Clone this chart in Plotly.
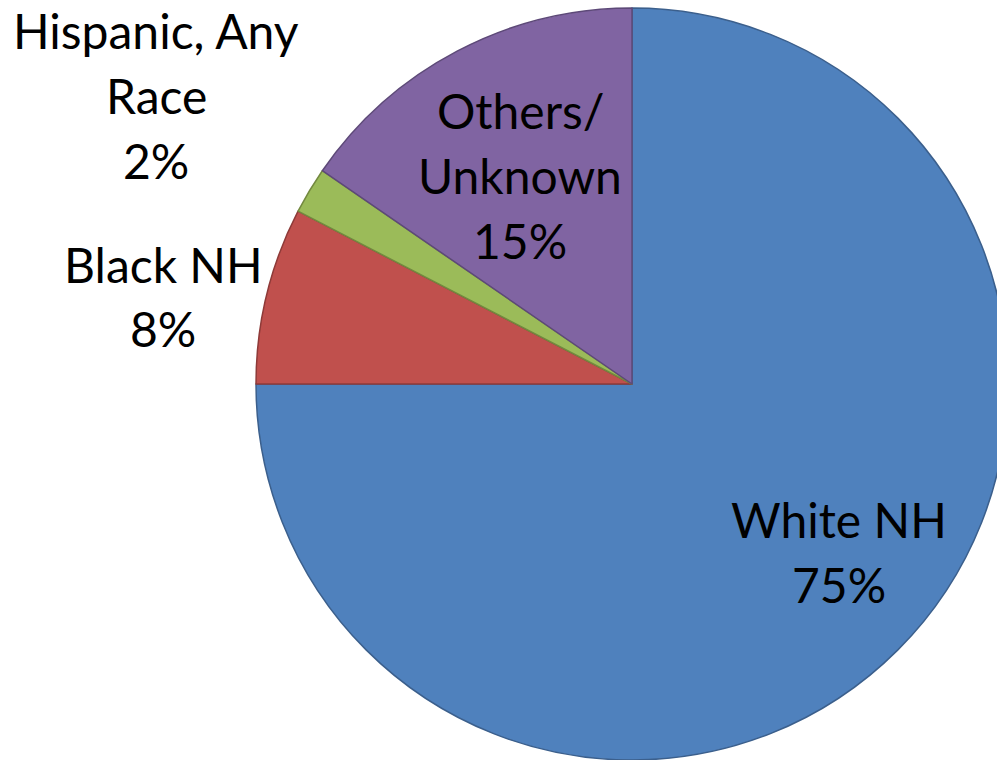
import plotly.graph_objects as go

# Data
categories = ["White NH", "Black NH", "Hispanic, Any Race", "Others/ Unknown"]
values = [75.0, 7.6, 2.0, 15.4]
label_lines = [["White NH"], ["Black NH"], ["Hispanic, Any", "Race"], ["Others/", "Unknown"]]
fill_colors = ["#4F81BD", "#C0504D", "#9BBB59", "#8064A2"]
edge_colors = ["#3B5F8C", "#8E3A38", "#73893F", "#5D4978"]

W, H = 1012, 760
# label anchor positions in pixels (center x, first line middle y, line spacing)
label_pos = [(839, 519, 65), (163, 265, 64), (156, 31, 65), (520, 110, 65)]

cx, cy, r = 632, 384, 376

fig = go.Figure(go.Pie(
    labels=categories,
    values=values,
    sort=False,
    direction="clockwise",
    rotation=0,
    textinfo="none",
    hoverinfo="label+percent",
    marker=dict(colors=fill_colors, line=dict(color=edge_colors, width=1.5)),
    domain=dict(x=[(cx - r) / W, (cx + r) / W], y=[1 - (cy + r) / H, 1 - (cy - r) / H]),
    showlegend=False,
))

for lines, v, (px, py, sp) in zip(label_lines, values, label_pos):
    all_lines = lines + [f"{round(v)}%"]
    for i, t in enumerate(all_lines):
        fig.add_annotation(
            x=px / W, y=1 - (py + i * sp) / H, xref="paper", yref="paper",
            text=t, showarrow=False, xanchor="center", yanchor="middle",
            font=dict(family="Lato", size=48, color="#000000"),
        )

fig.update_layout(
    width=W, height=H,
    margin=dict(l=0, r=0, t=0, b=0),
    paper_bgcolor="white",
    plot_bgcolor="white",
)

fig.write_html(
    "out.html",
    config={"displayModeBar": False},
    post_script="document.body.style.margin='0px';document.body.style.overflow='hidden';",
)
